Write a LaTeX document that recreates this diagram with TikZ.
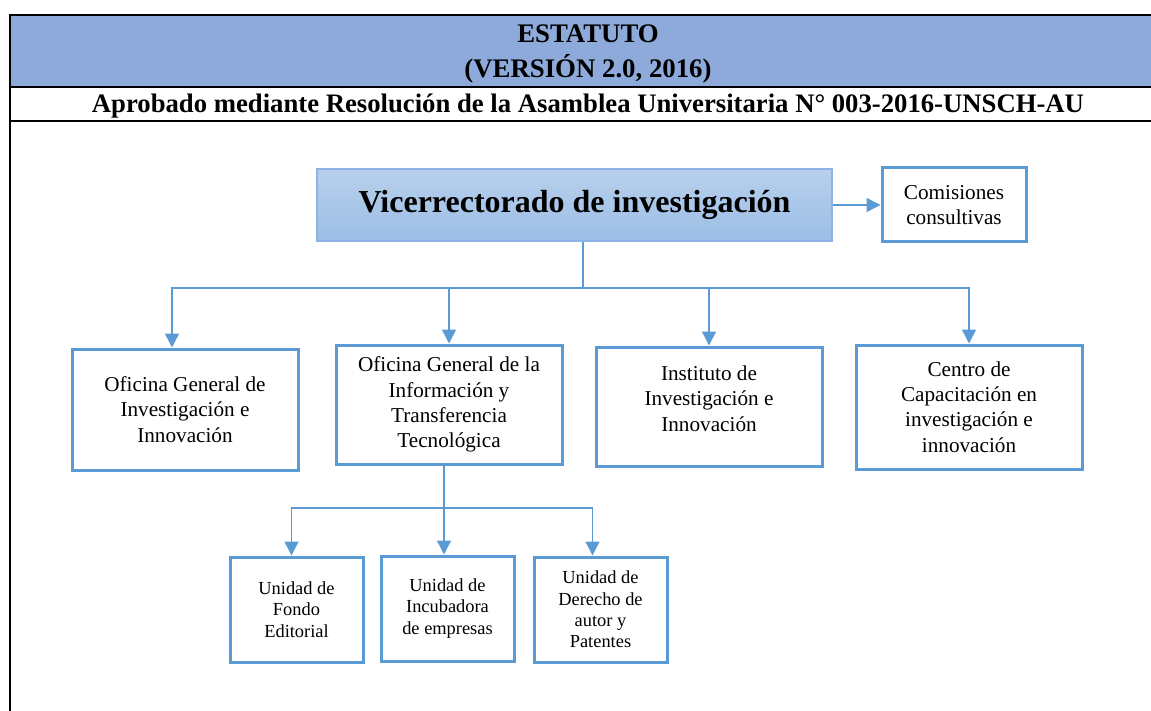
\documentclass[tikz,border=0pt]{standalone}
\usepackage{fontspec}
\setmainfont{Liberation Serif}
\usepackage{xcolor}
\definecolor{headBack}  {HTML}{8EAADB}
\definecolor{boxLine}   {HTML}{5B9BD5}
\definecolor{vriTop}    {HTML}{B8D0EC}
\definecolor{vriBottom} {HTML}{9BBEE5}
\definecolor{vriLine}   {HTML}{8DB4E2}
\usetikzlibrary{arrows.meta, positioning, calc}
\tikzset{
    frame/.style={line width=1pt, black},
    unit/.style={draw=boxLine, line width=1.5pt, fill=white, align=center,
                 inner sep=2pt, font=\fontsize{10.6}{12.6}\selectfont},
    subunit/.style={unit, minimum width=66.5pt, minimum height=52.5pt,
                    font=\fontsize{9.2}{10.7}\selectfont},
    link/.style={-, line width=0.75pt, boxLine},
    arr/.style={-{Triangle[width=7pt, length=7pt]}, line width=0.75pt, boxLine},
}

\begin{document}
\begin{tikzpicture}[x=0.5pt, y=-0.5pt]
\useasboundingbox (0,0) rectangle (1151,711);

% --- header table ---
\fill[headBack] (10,15) rectangle (1151,87);
\draw[frame] (1151,15) -- (10,15) -- (10,711);
\draw[frame] (10,87) -- (1151,87);
\draw[frame] (10,121) -- (1151,121);
\node[font=\fontsize{13.4}{17.5}\selectfont\bfseries, align=center] (title)
    at (588,54) {ESTATUTO\\(VERSIÓN 2.0, 2016)};
\node[font=\fontsize{13.35}{15}\selectfont\bfseries] (approval) at (588,106)
    {Aprobado mediante Resolución de la Asamblea Universitaria N° 003-2016-UNSCH-AU};

% --- vicerrectorado ---
\node[draw=vriLine, line width=0.6pt, top color=vriTop, bottom color=vriBottom,
      minimum width=257.5pt, minimum height=36pt,
      font=\fontsize{16}{19}\selectfont\bfseries] (vri) at (574.5,205)
    {Vicerrectorado de investigación};
\node[unit, minimum width=72pt, minimum height=37pt] (com) at (954,205)
    {Comisiones\\consultivas};
\draw[arr] (vri.east) -- (vri.east -| com.west);

% --- oficinas ---
\node[unit, minimum width=113pt, minimum height=60.5pt] (ogii) at (185,409.5)
    {Oficina General de\\Investigación e\\Innovación};
\node[unit, minimum width=113pt, minimum height=59.5pt] (ogitt) at (449,404.5)
    {Oficina General de la\\Información y\\Transferencia\\Tecnológica};
\node[unit, minimum width=113pt, minimum height=59.5pt, text depth=8pt] (iii)
    at (709,406.5) {Instituto de\\Investigación e\\Innovación};
\node[unit, minimum width=113pt, minimum height=62pt] (ccii) at (969,407)
    {Centro de\\Capacitación en\\investigación e\\innovación};

\coordinate (bus) at (583,288);
\draw[link] (vri.south -| bus) -- (bus);
\draw[arr] (bus) -| ([xshift=-6.5pt]ogii.north);
\draw[arr] (bus) -| (ogitt.north);
\draw[arr] (bus) -| (iii.north);
\draw[arr] (bus) -| (ccii.north);

% --- unidades ---
\node[subunit] (u-fe) at (296.5,609.5) {Unidad de\\Fondo\\Editorial};
\node[subunit] (u-ie) at (447.5,608.5) {Unidad de\\Incubadora\\de empresas};
\node[subunit] (u-dap) at (600.5,609.5) {Unidad de\\Derecho de\\autor y\\Patentes};

\coordinate (sbus) at (444,508);
\draw[link] (ogitt.south -| sbus) -- (sbus);
\draw[arr] (sbus) -| ([xshift=-2.5pt]u-fe.north);
\draw[arr] (sbus) -| ([xshift=-1.75pt]u-ie.north);
\draw[arr] (sbus) -| ([xshift=-4pt]u-dap.north);
\end{tikzpicture}
\end{document}
